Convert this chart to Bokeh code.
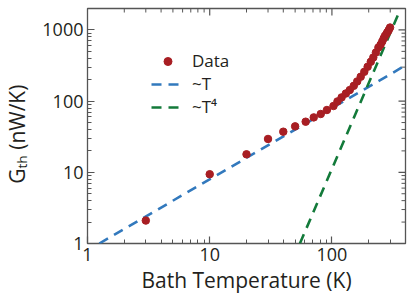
import math
from bokeh.plotting import figure
from bokeh.models import FixedTicker, Legend, LegendItem
from bokeh.embed import file_html
from bokeh.resources import INLINE

temperature = [3, 10, 20, 30, 40, 50, 61, 71, 81, 91, 103, 111, 120, 130, 140,
               151, 161, 172, 184, 196, 208, 218, 229, 240, 250, 258, 265, 272,
               280, 286, 292, 299]
conductance = [2.1, 9.4, 17.9, 29.4, 37.2, 44.2, 51.4, 59.1, 65.9, 75, 85.4, 99,
               112.8, 128, 143, 164, 189, 220, 258, 304, 357, 410, 482, 566, 620,
               687, 760, 826, 890, 940, 1000, 1081]

# Guide lines (end points)
linear_T = [1.25, 400]
linear_G = [1.0, 318]
quartic_T = [54.7, 360]
quartic_G = [1.0, 1876]

x_range = (1, 400)
y_range = (1, 2000)
x_ticks = [1, 10, 100]
x_tick_labels = ["1", "10", "100"]
x_minor = [2, 3, 4, 5, 6, 7, 8, 9, 20, 30, 40, 50, 60, 70, 80, 90, 200, 300, 400]
y_ticks = [1, 10, 100, 1000]
y_tick_labels = ["1", "10", "100", "1000"]
y_minor = [2, 3, 4, 5, 6, 7, 8, 9, 20, 30, 40, 50, 60, 70, 80, 90,
           200, 300, 400, 500, 600, 700, 800, 900, 2000]
legend_labels = ["Data", "~T", "~T⁴"]

FONT = "Open Sans"
TXT = "#231f20"
TICK = "#555555"

p = figure(frame_width=318, frame_height=235, x_axis_type="log", y_axis_type="log",
           x_range=x_range, y_range=y_range,
           output_backend="svg", toolbar_location=None,
           min_border_left=80, min_border_right=7, min_border_top=8,
           min_border_bottom=40)
p.background_fill_color = "white"
p.border_fill_color = "white"
p.grid.visible = False
p.outline_line_color = TICK
p.outline_line_width = 1.3

bottom = p.below[0]
left = p.left[0]

r_lin = p.line(linear_T, linear_G, line_color="#3279bd", line_width=2.6,
               line_dash="10 7")
r_quart = p.line(quartic_T, quartic_G, line_color="#137a3a", line_width=2.6,
                 line_dash="10 7")
r_data = p.scatter(temperature, conductance, size=7.5, fill_color="#a81e23",
                   line_color="#a81e23")

# inward ticks on the top and right frame edges
top_major = x_ticks[1:]
p.ray(x=top_major, y=[y_range[1]] * len(top_major), length=7, length_units="screen",
      angle=-math.pi / 2, line_color=TICK, line_width=1.2)
p.ray(x=x_minor, y=[y_range[1]] * len(x_minor), length=4, length_units="screen",
      angle=-math.pi / 2, line_color=TICK, line_width=1)
right_major = y_ticks[1:]
p.ray(x=[x_range[1]] * len(right_major), y=right_major, length=7, length_units="screen",
      angle=math.pi, line_color=TICK, line_width=1.2)
p.ray(x=[x_range[1]] * len(y_minor), y=y_minor, length=4, length_units="screen",
      angle=math.pi, line_color=TICK, line_width=1)

def style(ax, ticks, minor, labels):
    ax.ticker = FixedTicker(ticks=ticks, minor_ticks=minor)
    ax.axis_line_color = None
    ax.major_tick_in = 7
    ax.major_tick_out = 0
    ax.minor_tick_in = 4
    ax.minor_tick_out = 0
    ax.major_tick_line_color = TICK
    ax.minor_tick_line_color = TICK
    ax.major_tick_line_width = 1.2
    ax.minor_tick_line_width = 1
    ax.major_label_text_font = FONT
    ax.major_label_text_font_style = "normal"
    ax.major_label_text_color = TXT
    ax.major_label_text_font_size = "18px"
    ax.major_label_overrides = {t: l for t, l in zip(ticks, labels)}

style(bottom, x_ticks, x_minor, x_tick_labels)
style(left, y_ticks, y_minor, y_tick_labels)
bottom.major_label_standoff = 4
left.major_label_standoff = 4

bottom.axis_label = "Bath Temperature (K)"
left.axis_label = "Gₜₕ (nW/K)\u00a0\u00a0\u00a0"
for ax in (bottom, left):
    ax.axis_label_text_font = FONT
    ax.axis_label_text_font_size = "21px"
    ax.axis_label_text_font_style = "normal"
    ax.axis_label_text_color = TXT
bottom.axis_label_standoff = 2
left.axis_label_standoff = 8

# one legend per entry so the rows sit at fixed offsets
rows = [(r_data, 171), (r_lin, 148), (r_quart, 125)]
for label, (rend, ypos) in zip(legend_labels, rows):
    lg = Legend(items=[LegendItem(label=label, renderers=[rend])], location=(64, ypos))
    lg.padding = 0
    lg.margin = 0
    lg.spacing = 0
    lg.glyph_width = 33
    lg.glyph_height = 20
    lg.label_height = 20
    lg.label_standoff = 8
    lg.label_text_font = FONT
    lg.label_text_font_size = "17px"
    lg.label_text_color = TXT
    lg.border_line_color = None
    lg.background_fill_alpha = 0
    p.add_layout(lg)

open("out.html", "w").write(file_html(p, INLINE))
